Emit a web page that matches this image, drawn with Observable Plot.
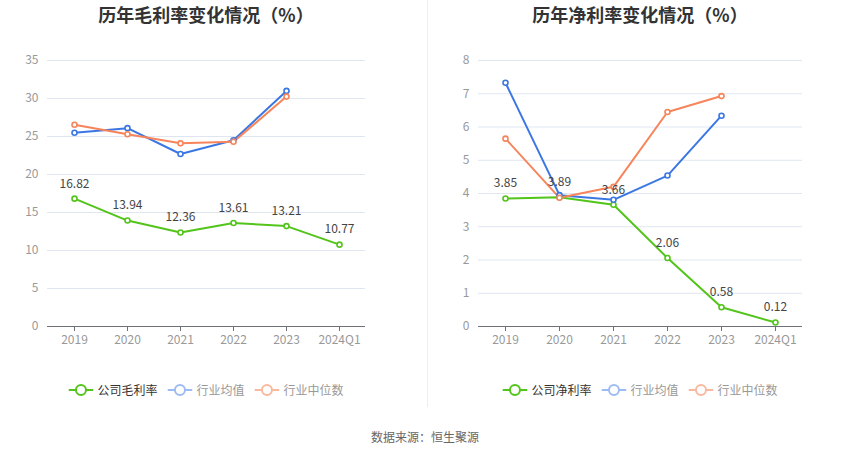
<!DOCTYPE html>
<html>
<head>
<meta charset="utf-8">
<script src="https://cdn.jsdelivr.net/npm/d3@7"></script>
<script src="https://cdn.jsdelivr.net/npm/@observablehq/plot@0.6"></script>
<style>
  html, body { margin: 0; padding: 0; background: #fff; }
  body { width: 850px; height: 459px; position: relative; overflow: hidden;
         font-family: "Noto Sans CJK SC", "Noto Sans", sans-serif; }
  .title { position: absolute; top: 2px; font-size: 18px; font-weight: bold; color: #333;
           transform: translateX(-50%); white-space: nowrap; line-height: 24px; }
  .panel { position: absolute; top: 30px; }
  .legend { position: absolute; top: 380px; transform: translateX(-50%); white-space: nowrap;
            font-size: 12px; display: flex; align-items: center; line-height: 20px; }
  .legend .item { display: flex; align-items: center; margin-right: 10px; }
  .legend .item:last-child { margin-right: 0; }
  .legend svg { margin-right: 4px; }
  .divider { position: absolute; left: 427px; top: 0; width: 1px; height: 407px; background: #eeeeee; }
  .caption { position: absolute; top: 428px; left: 425px; transform: translateX(-50%);
             font-size: 12px; color: #666; white-space: nowrap; }
</style>
</head>
<body>
<div class="divider"></div>
<div id="root"></div>
<div class="caption">数据来源：恒生聚源</div>
<script>
const years = ["2019", "2020", "2021", "2022", "2023", "2024Q1"];

const grossTitle = "历年毛利率变化情况（%）";
const grossNames = ["公司毛利率", "行业均值", "行业中位数"];
const grossCompany = [16.82, 13.94, 12.36, 13.61, 13.21, 10.77];
const grossIndustryAvg = [25.5, 26.1, 22.7, 24.5, 31.0, null];
const grossIndustryMedian = [26.55, 25.3, 24.1, 24.3, 30.25, null];
const grossTicks = [0, 5, 10, 15, 20, 25, 30, 35];

const netTitle = "历年净利率变化情况（%）";
const netNames = ["公司净利率", "行业均值", "行业中位数"];
const netCompany = [3.85, 3.89, 3.66, 2.06, 0.58, 0.12];
const netIndustryAvg = [7.33, 3.95, 3.81, 4.54, 6.34, null];
const netIndustryMedian = [5.65, 3.87, 4.2, 6.45, 6.93, null];
const netTicks = [0, 1, 2, 3, 4, 5, 6, 7, 8];

const colors = ["#52c41a", "#3b77e3", "#f7845a"];
const legendIconColors = ["#52c41a", "#9dbcf2", "#fbb8a0"];
const legendTextColors = ["#333333", "#999999", "#999999"];

function rows(values) {
  return years.map((x, i) => ({x, y: values[i]})).filter(d => d.y != null);
}

function makeChart({left, width, marginLeft, marginRight, ticks, series, names, title}) {
  const plotLeft = left + marginLeft;
  const plotRight = left + width - marginRight;
  const center = (plotLeft + plotRight) / 2;

  const t = document.createElement("div");
  t.className = "title";
  t.style.left = center + "px";
  t.textContent = title;
  document.body.appendChild(t);

  const marks = [
    Plot.gridY(ticks, {stroke: "#e0e6f1", strokeOpacity: 1}),
    Plot.axisY(ticks, {tickSize: 0, tickPadding: 9, fill: "#999", fontSize: 12, label: null}),
    Plot.ruleY([0], {stroke: "#6e7079", strokeWidth: 1}),
    Plot.axisX({tickSize: 5, stroke: "#6e7079", fill: "#999", fontSize: 12, tickPadding: 4, label: null})
  ];
  series.forEach((vals, i) => {
    const data = rows(vals);
    marks.push(Plot.lineY(data, {x: "x", y: "y", stroke: colors[i], strokeWidth: 2}));
  });
  series.forEach((vals, i) => {
    const data = rows(vals);
    marks.push(Plot.dot(data, {x: "x", y: "y", r: 2.5, fill: "#fff", stroke: colors[i], strokeWidth: 1.6}));
  });
  marks.push(Plot.text(rows(series[0]), {x: "x", y: "y", text: d => d.y.toFixed(2), dy: -15,
    fill: "#444", fontSize: 12}));

  const chart = Plot.plot({
    width, height: 320,
    marginLeft, marginRight, marginTop: 30, marginBottom: 24,
    style: {fontFamily: "'Noto Sans CJK SC', 'Noto Sans', sans-serif", fontSize: "12px", background: "transparent"},
    x: {type: "point", domain: years, padding: 0.5, label: null},
    y: {domain: [ticks[0], ticks[ticks.length - 1]], label: null},
    marks
  });
  const p = document.createElement("div");
  p.className = "panel";
  p.style.left = left + "px";
  p.appendChild(chart);
  document.body.appendChild(p);

  const lg = document.createElement("div");
  lg.className = "legend";
  lg.style.left = center + "px";
  names.forEach((n, i) => {
    const item = document.createElement("div");
    item.className = "item";
    item.innerHTML = `<svg width="25" height="14"><line x1="0" x2="25" y1="7" y2="7" stroke="${legendIconColors[i]}" stroke-width="2"/><circle cx="12.5" cy="7" r="5" fill="#fff" stroke="${legendIconColors[i]}" stroke-width="2"/></svg><span style="color:${legendTextColors[i]}">${n}</span>`;
    lg.appendChild(item);
  });
  document.body.appendChild(lg);
}

makeChart({left: 0, width: 427, marginLeft: 47, marginRight: 62, ticks: grossTicks,
  series: [grossCompany, grossIndustryAvg, grossIndustryMedian], names: grossNames, title: grossTitle});
makeChart({left: 427, width: 423, marginLeft: 51, marginRight: 48, ticks: netTicks,
  series: [netCompany, netIndustryAvg, netIndustryMedian], names: netNames, title: netTitle});
</script>
</body>
</html>
